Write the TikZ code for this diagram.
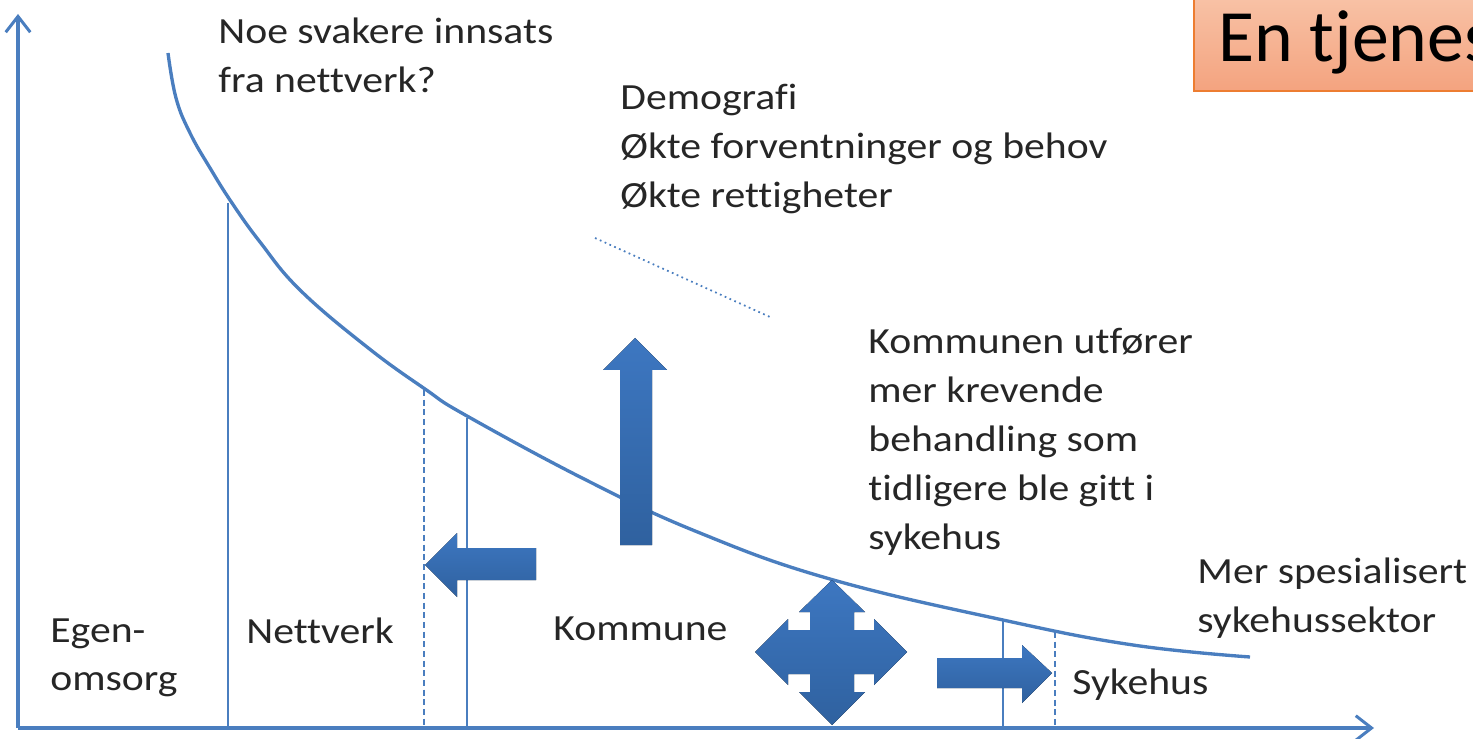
\documentclass[tikz,border=0pt]{standalone}
\usepackage{fontspec}
\setmainfont{Carlito}[FakeStretch=1.13, Ligatures=NoCommon]
\newfontfamily\titlefont{Carlito}
\usetikzlibrary{arrows.meta, positioning}
\definecolor{lineBlue}{HTML}{4A7EBF}
\definecolor{arrowTop}{HTML}{3D77C1}
\definecolor{arrowBottom}{HTML}{2F619F}
\definecolor{boxTop}{HTML}{F8C3A7}
\definecolor{boxBottom}{HTML}{F4A37F}
\definecolor{boxEdge}{HTML}{ED7D31}

\begin{document}
\begin{tikzpicture}[
    x=0.02cm, y=-0.02cm,
    axis/.style={
        draw=lineBlue, line width=1.9pt,
        -{Straight Barb[length=9pt, width=14pt, line width=1.7pt]},
    },
    curveline/.style={draw=lineBlue, line width=1.9pt},
    border/.style={draw=lineBlue, line width=1.6pt},
    shifted/.style={border, dash pattern=on 3.5pt off 2pt},
    blockarrow/.style={
        draw=none, top color=arrowTop, bottom color=arrowBottom,
    },
    lbl/.style={
        font=\fontsize{21}{27.8}\selectfont, text=black!85,
        align=left, inner sep=0pt, anchor=north west,
    },
]
\useasboundingbox (0,0) rectangle (1473,739);

%--- Axes ---
\coordinate (origin) at (18,728);
\coordinate (ytop) at (18,14);
\coordinate (xend) at (1374,728);
\draw[axis] (origin) -- (ytop);
\draw[axis] (origin) -- (xend);

%--- Demand curve ---
\draw[curveline] plot[smooth, tension=0.7] coordinates {
    (168,53) (176,98) (190,133) (210,168) (232,203) (260,242) (300,290)
    (367,347) (425,389) (467,416) (590,482) (700,533) (830,579)
    (1003,620) (1133,645) (1250,657)};

%--- Sector borders (solid = today, dashed = shifted) ---
\draw[border] (228,203) -- (228,728);
\draw[shifted] (424,390) -- (424,728);
\draw[border] (467,418) -- (467,728);
\draw[border] (1003,621) -- (1003,728);
\draw[shifted] (1055,632) -- (1055,728);

%--- Dotted trend line ---
\draw[lineBlue, line width=1pt, dotted] (595,238) -- (770,317);

%--- Block arrows ---
% up: more demanding tasks
\fill[blockarrow] (635,338) -- (667,370) -- (652,370) -- (652,545)
    -- (620,545) -- (620,370) -- (603,370) -- cycle;
% left: network to municipality
\fill[blockarrow] (425,565) -- (457,533) -- (457,548) -- (536,548)
    -- (536,580) -- (457,580) -- (457,597) -- cycle;
% right: municipality to hospital
\fill[blockarrow] (1052,673) -- (1022,703) -- (1022,688) -- (937,688)
    -- (937,658) -- (1022,658) -- (1022,645) -- cycle;
% four-way
\begin{scope}[shift={(832,652)}]
\fill[blockarrow] (0,-72) -- (33,-40) -- (22,-40) -- (22,-22) -- (42,-22)
    -- (42,-33) -- (75,0) -- (42,33) -- (42,22) -- (22,22) -- (22,40)
    -- (33,40) -- (0,73) -- (-33,40) -- (-22,40) -- (-22,22) -- (-44,22)
    -- (-44,33) -- (-77,0) -- (-44,-33) -- (-44,-22) -- (-22,-22)
    -- (-22,-40) -- (-33,-40) -- cycle;
\end{scope}

%--- Title box (runs off the page) ---
\shade[top color=boxTop, bottom color=boxBottom, draw=boxEdge, line width=0.8pt]
    (1194,-6) rectangle (1490,91);
\node[font=\titlefont\fontsize{42}{50}\selectfont, inner sep=0pt, anchor=base west]
    (title) at (1218,62) {En tjenes};

%--- Labels ---
\node[lbl] (svakere) at (218,18) {Noe svakere innsats\\fra nettverk?};
\node[lbl] (demografi) at (620,84) {Demografi\\Økte forventninger og behov\\Økte rettigheter};
\node[lbl] (utforer) at (868,328) {Kommunen utfører\\mer krevende\\behandling som\\tidligere ble gitt i\\sykehus};
\node[lbl] (spesial) at (1197,558) {Mer spesialisert\\sykehussektor};
\node[lbl] (egen) at (50,618) {Egen-\\omsorg};
\node[lbl] (nettverk) at (246,618) {Nettverk};
\node[lbl] (kommune) at (553,616) {Kommune};
\node[lbl] (sykehus) at (1072,669) {Sykehus};

\end{tikzpicture}
\end{document}
